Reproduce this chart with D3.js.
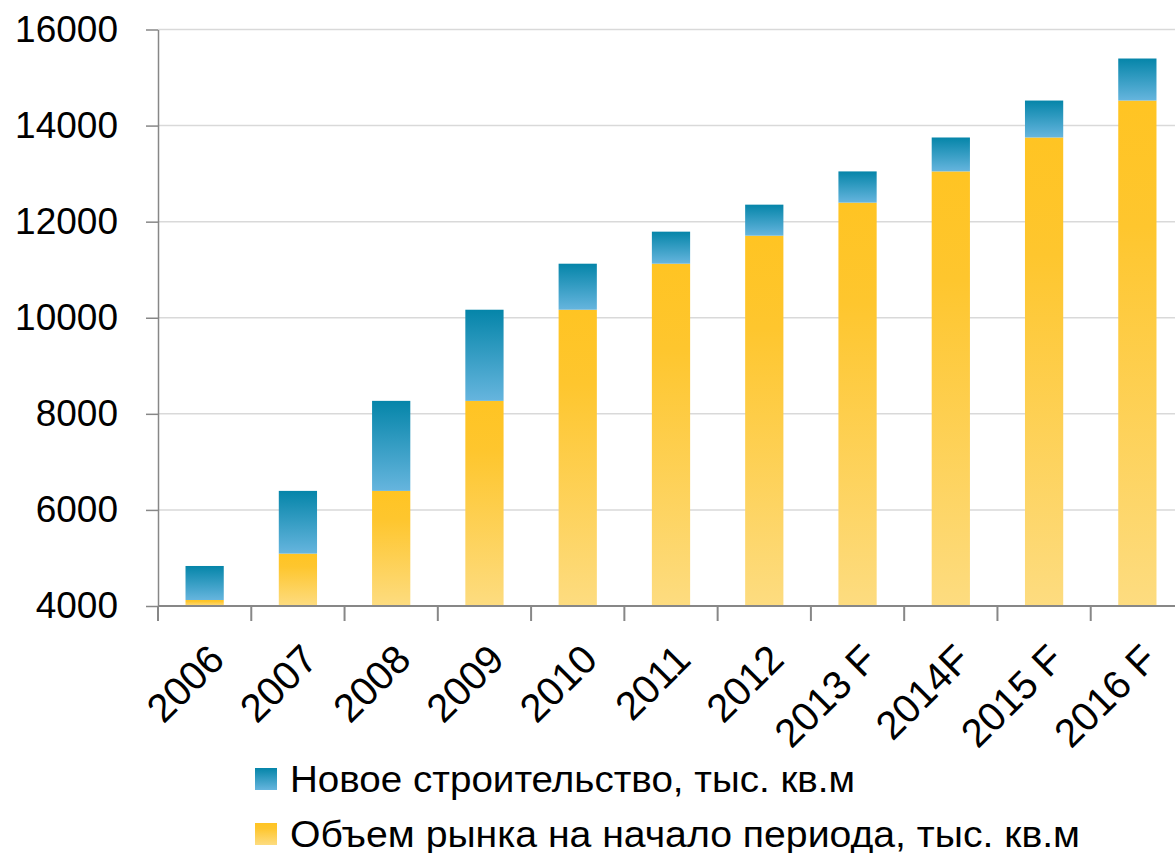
<!DOCTYPE html>
<html>
<head>
<meta charset="utf-8">
<script src="https://cdn.jsdelivr.net/npm/d3@7"></script>
<style>
  body { margin: 0; background: #fff; }
  text { font-family: "Liberation Sans", Arial, sans-serif; fill: #000; }
</style>
</head>
<body>
<div id="chart"></div>
<script>
// chart data
var years = ["2006", "2007", "2008", "2009", "2010", "2011", "2012", "2013 F", "2014F", "2015 F", "2016 F"];
var marketStart = [4125, 5090, 6396, 8270, 10167, 11125, 11708, 12396, 13046, 13752, 14521];
var newBuild = [708, 1306, 1874, 1897, 958, 667, 646, 650, 706, 769, 875];
var yTicks = [4000, 6000, 8000, 10000, 12000, 14000, 16000];
var legendLabels = ["Новое строительство, тыс. кв.м", "Объем рынка на начало периода, тыс. кв.м"];

var svgWidth = 1175;
var svgHeight = 853;

var svg = d3.select("#chart")
  .append("svg")
  .attr("width", svgWidth)
  .attr("height", svgHeight);

// gradients for the two series
var defs = svg.append("defs");
var blueGrad = defs.append("linearGradient")
  .attr("id", "blueGrad")
  .attr("x1", 0).attr("y1", 0).attr("x2", 0).attr("y2", 1);
blueGrad.append("stop").attr("offset", "0%").attr("stop-color", "#0585a9");
blueGrad.append("stop").attr("offset", "100%").attr("stop-color", "#66b5de");

var yellowGrad = defs.append("linearGradient")
  .attr("id", "yellowGrad")
  .attr("x1", 0).attr("y1", 0).attr("x2", 0).attr("y2", 1);
yellowGrad.append("stop").attr("offset", "0%").attr("stop-color", "#ffc423");
yellowGrad.append("stop").attr("offset", "25%").attr("stop-color", "#fec62e");
yellowGrad.append("stop").attr("offset", "100%").attr("stop-color", "#fddc80");

// scales
var xScale = d3.scaleBand()
  .domain(years)
  .range([158, 1184])
  .paddingInner(0.59)
  .paddingOuter(0.295);

var yScale = d3.scaleLinear()
  .domain([4000, 16000])
  .range([606, 29.5]);

// gridlines
svg.append("g")
  .selectAll("line")
  .data(yTicks.slice(1))
  .enter()
  .append("line")
  .attr("x1", 158)
  .attr("x2", svgWidth)
  .attr("y1", d => yScale(d))
  .attr("y2", d => yScale(d))
  .attr("stroke", "#d9d9d9")
  .attr("stroke-width", 1.5);

// y axis
var leftAxis = d3.axisLeft(yScale)
  .tickValues(yTicks)
  .tickSize(12)
  .tickSizeOuter(0)
  .tickPadding(28)
  .tickFormat(d3.format("d"));

var yAxis = svg.append("g")
  .attr("transform", "translate(158,0)")
  .call(leftAxis);
yAxis.select(".domain").attr("stroke", "#878787").attr("stroke-width", 1.5);
yAxis.selectAll(".tick line").attr("stroke", "#878787").attr("stroke-width", 1.5);
yAxis.selectAll(".tick text")
  .attr("font-family", "Liberation Sans, Arial, sans-serif")
  .attr("font-size", 37)
  .attr("fill", "#000");

// bars: lower series (market volume)
svg.append("g")
  .selectAll("rect")
  .data(years)
  .enter()
  .append("rect")
  .attr("x", d => xScale(d))
  .attr("width", xScale.bandwidth())
  .attr("y", (d, i) => yScale(marketStart[i]))
  .attr("height", (d, i) => yScale(4000) - yScale(marketStart[i]))
  .attr("fill", "url(#yellowGrad)");

// bars: upper series (new construction)
svg.append("g")
  .selectAll("rect")
  .data(years)
  .enter()
  .append("rect")
  .attr("x", d => xScale(d))
  .attr("width", xScale.bandwidth())
  .attr("y", (d, i) => yScale(marketStart[i] + newBuild[i]))
  .attr("height", (d, i) => yScale(marketStart[i]) - yScale(marketStart[i] + newBuild[i]))
  .attr("fill", "url(#blueGrad)");

// x axis line and ticks (ticks between categories)
var gap = (xScale.step() - xScale.bandwidth()) / 2;
var xAxisG = svg.append("g");
xAxisG.append("line")
  .attr("x1", 158).attr("x2", svgWidth)
  .attr("y1", 606).attr("y2", 606)
  .attr("stroke", "#878787")
  .attr("stroke-width", 2);
xAxisG.selectAll("line.tick")
  .data(years)
  .enter()
  .append("line")
  .attr("class", "tick")
  .attr("x1", d => xScale(d) - gap)
  .attr("x2", d => xScale(d) - gap)
  .attr("y1", 606)
  .attr("y2", 621)
  .attr("stroke", "#878787")
  .attr("stroke-width", 2);

// rotated category labels
svg.append("g")
  .selectAll("text")
  .data(years)
  .enter()
  .append("text")
  .attr("transform", d => `translate(${xScale(d) + xScale.bandwidth() / 2 + 2}, 642) rotate(-45)`)
  .attr("text-anchor", "end")
  .attr("dy", "0.7em")
  .attr("font-size", 40)
  .text(d => d);

// legend
var legendColors = ["url(#blueGrad)", "url(#yellowGrad)"];
var legendWidths = [565, 790];
var legend = svg.append("g")
  .selectAll("g")
  .data(legendLabels)
  .enter()
  .append("g")
  .attr("transform", (d, i) => `translate(255, ${768 + i * 55})`);

legend.append("rect")
  .attr("width", 22)
  .attr("height", 22)
  .attr("fill", (d, i) => legendColors[i]);

legend.append("text")
  .attr("x", 35)
  .attr("y", 11)
  .attr("dy", "0.34em")
  .attr("font-size", 37)
  .attr("textLength", (d, i) => legendWidths[i])
  .attr("lengthAdjust", "spacingAndGlyphs")
  .text(d => d);
</script>
</body>
</html>
